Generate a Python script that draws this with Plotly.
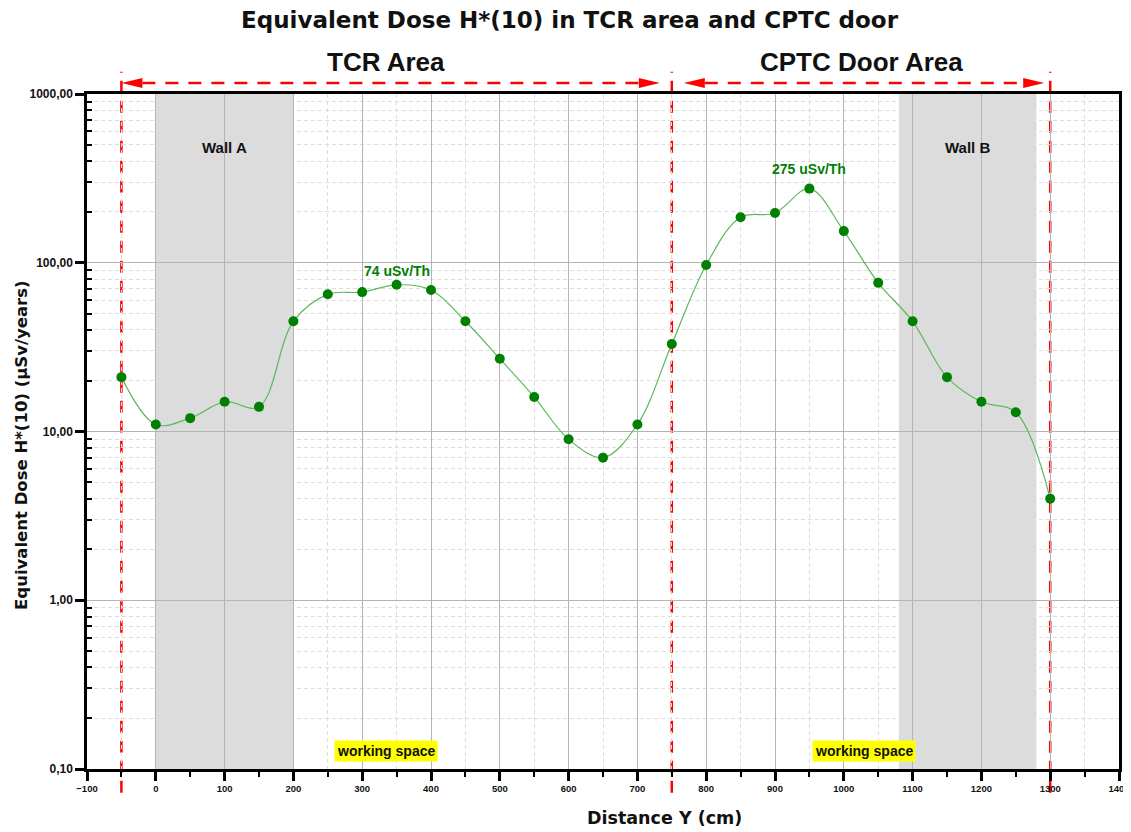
import math
import plotly.graph_objects as go

# ---- data ----
distance_cm = [-50, 0, 50, 100, 150, 200, 250, 300, 350, 400, 450, 500, 550, 600,
               650, 700, 750, 800, 850, 900, 950, 1000, 1050, 1100, 1150, 1200, 1250, 1300]
dose = [21, 11, 12, 15, 14, 45, 65, 67, 74, 69, 45, 27, 16, 9,
        7, 11, 33, 97, 186, 197, 275, 154, 76, 45, 21, 15, 13, 4]

walls = [("Wall A", 0, 200), ("Wall B", 1080, 1280)]
area_bounds = [-50, 750, 1300]
area_names = ["TCR Area", "CPTC Door Area"]
area_label_x = [335, 1025]
working_space_x = [335, 1030]
peak_labels = [(350, 74, "74 uSv/Th", 14), (950, 275, "275 uSv/Th", 20)]

y_major = [0.1, 1, 10, 100, 1000]
y_minor = [m * d for d in [0.1, 1, 10, 100] for m in range(2, 10)]

FONT = "Liberation Sans"
HEAVY = "DejaVu Sans"
RED = "#ff0000"

fig = go.Figure()

fig.add_trace(go.Scatter(
    x=distance_cm, y=dose, mode="lines+markers",
    line=dict(color="#5cb85c", width=1.2, shape="spline", smoothing=1.0),
    marker=dict(color="#008000", size=10),
    showlegend=False, cliponaxis=False,
))

shapes = []
annotations = []

# walls
for name, x0, x1 in walls:
    shapes.append(dict(type="rect", xref="x", yref="paper", x0=x0, x1=x1, y0=0, y1=1,
                       fillcolor="#dcdcdc", line=dict(width=0), layer="below"))
    annotations.append(dict(x=(x0 + x1) / 2, y=0.92, xref="x", yref="paper", text=name,
                            showarrow=False, yanchor="middle",
                            font=dict(family=FONT, size=15, color="#111", weight="bold")))

# red vertical dashed lines
for xb in area_bounds:
    shapes.append(dict(type="line", xref="x", yref="paper", x0=xb, x1=xb, y0=-0.035, y1=1.033,
                       line=dict(color=RED, width=2.5, dash="12px,8px"), layer="between"))

# horizontal arrows
ya = 1.0163
px = 1.0 / 0.688  # data units per pixel
hh = 0.0075
arrow_specs = [(-50, 750 - 12 * px), (750 + 12 * px, 1300 - 6 * px)]
for (xl, xr) in arrow_specs:
    L = 21 * px
    shapes.append(dict(type="line", xref="x", yref="paper", x0=xl + L, x1=xr - L, y0=ya, y1=ya,
                       line=dict(color=RED, width=2.5, dash="13px,10px")))
    shapes.append(dict(type="path", xref="x", yref="paper",
                       path=f"M {xl},{ya} L {xl + L},{ya + hh} L {xl + L},{ya - hh} Z",
                       fillcolor=RED, line=dict(width=0)))
    shapes.append(dict(type="path", xref="x", yref="paper",
                       path=f"M {xr},{ya} L {xr - L},{ya + hh} L {xr - L},{ya - hh} Z",
                       fillcolor=RED, line=dict(width=0)))

for name, xc in zip(area_names, area_label_x):
    annotations.append(dict(x=xc, y=1.047, xref="x", yref="paper", text=name, showarrow=False,
                            yanchor="middle",
                            font=dict(family=FONT, size=26, color="#111", weight="bold")))

for xc in working_space_x:
    annotations.append(dict(x=xc, y=0.027, xref="x", yref="paper", text="working space",
                            showarrow=False, bgcolor="#ffff00", borderpad=2, yanchor="middle",
                            font=dict(family=FONT, size=14, color="#111", weight="bold")))

for xv, yv, txt, shift in peak_labels:
    annotations.append(dict(x=xv, y=math.log10(yv), xref="x", yref="y", text=txt, showarrow=False,
                            yanchor="middle", yshift=shift,
                            font=dict(family=FONT, size=14, color="#008000", weight="bold")))

# axis titles
annotations.append(dict(x=0.56, y=-0.073, xref="paper", yref="paper", text="Distance Y (cm)",
                        showarrow=False, yanchor="middle", xanchor="center",
                        font=dict(family=HEAVY, size=17.5, color="#111", weight="bold")))
annotations.append(dict(x=-0.064, y=0.48, xref="paper", yref="paper",
                        text="Equivalent Dose H*(10) (µSv/years)", textangle=-90,
                        showarrow=False, xanchor="center", yanchor="middle",
                        font=dict(family=HEAVY, size=16.5, color="#111", weight="bold")))

# page body has an 8px margin: compensate so the plot lands where the reference has it
fig.update_layout(
    width=1123, height=824,
    margin=dict(l=79, r=12, t=86, b=63),
    paper_bgcolor="white", plot_bgcolor="rgba(0,0,0,0)",
    separators=",.",
    title=dict(text="Equivalent Dose H*(10) in TCR area and CPTC door", x=0.5, xanchor="center",
               y=1 - 12 / 824, yanchor="middle", yref="container",
               font=dict(family=HEAVY, size=23, color="#111", weight="bold")),
    shapes=shapes, annotations=annotations,
    xaxis=dict(range=[-100, 1400], tick0=-100, dtick=100, tickmode="linear", automargin=False,
               showline=True, linecolor="black", linewidth=2.5, mirror=True,
               ticks="outside", ticklen=9, tickwidth=2.5, tickcolor="black",
               tickfont=dict(family=FONT, size=9.5, color="#111", weight="bold"),
               showgrid=True, gridcolor="#b4b4b4", gridwidth=1, zeroline=False,
               minor=dict(dtick=50, ticks="outside", ticklen=5, tickwidth=2, tickcolor="black",
                          showgrid=True, gridcolor="#dddddd", griddash="4px,3px", gridwidth=1)),
    yaxis=dict(type="log", range=[-1, 3], tickvals=y_major, tickformat=".2f", automargin=False,
               showline=True, linecolor="black", linewidth=2.5, mirror=True,
               ticks="outside", ticklen=9, tickwidth=2.5, tickcolor="black",
               tickfont=dict(family=FONT, size=12, color="#111", weight="bold"),
               showgrid=True, gridcolor="#b4b4b4", gridwidth=1, zeroline=False,
               minor=dict(tickvals=y_minor, ticks="inside", ticklen=5, tickwidth=2, tickcolor="black",
                          showgrid=True, gridcolor="#dddddd", griddash="4px,3px", gridwidth=1)),
)

fig.write_html("out.html")
